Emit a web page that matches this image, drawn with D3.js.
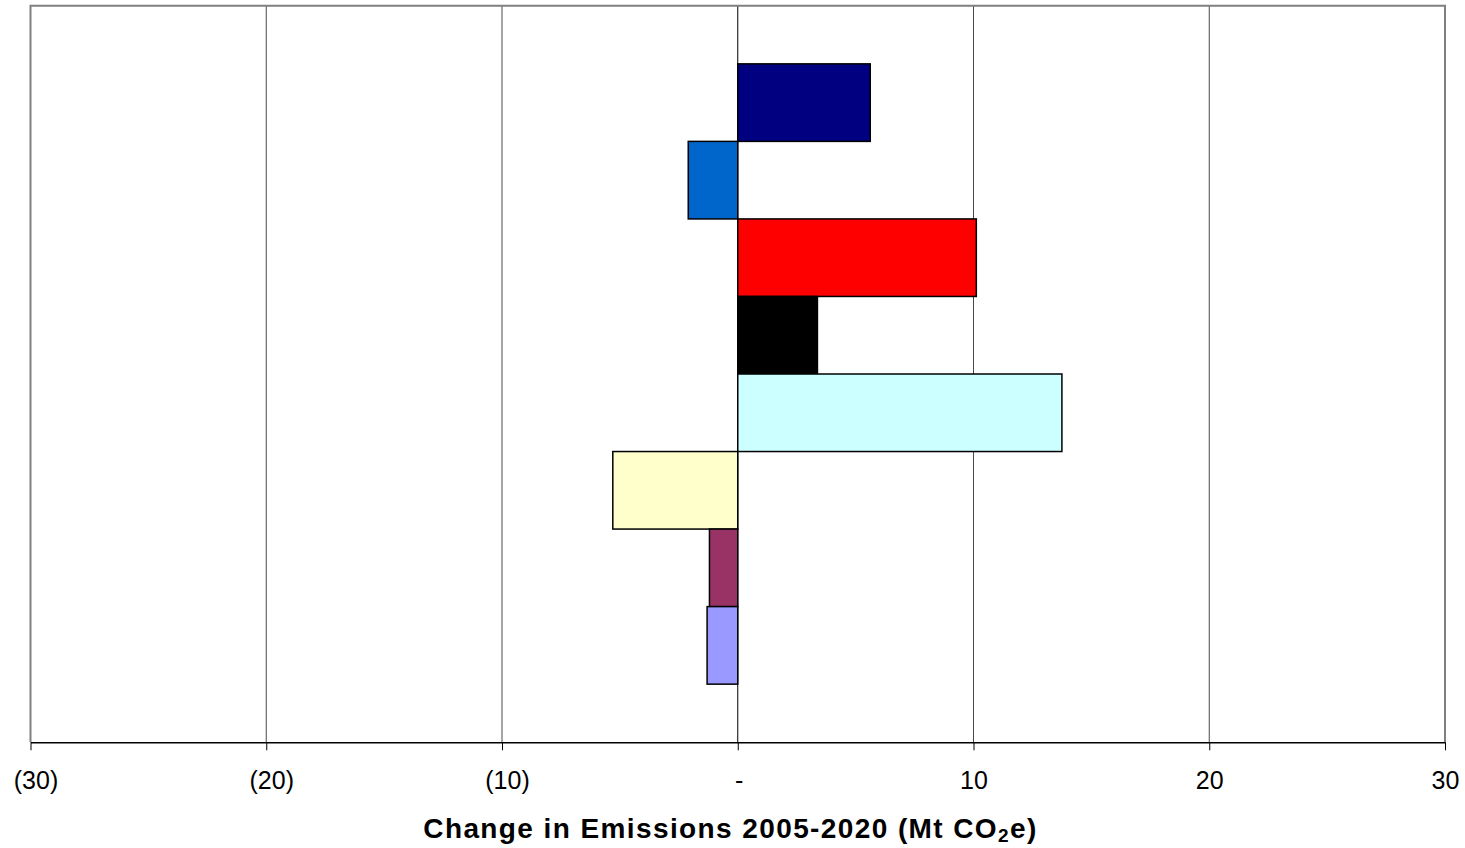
<!DOCTYPE html>
<html>
<head>
<meta charset="utf-8">
<script src="https://cdn.jsdelivr.net/npm/d3@7"></script>
<style>
  html, body { margin: 0; padding: 0; background: #fff; }
  svg { display: block; font-family: "Liberation Sans", Arial, sans-serif; }
</style>
</head>
<body>
<svg id="chart" width="1465" height="848"></svg>
<script>
// Series (one bar each), top to bottom
const seriesIds = ["s1", "s2", "s3", "s4", "s5", "s6", "s7", "s8"];
// Change in emissions 2005-2020, Mt CO2e
const seriesValues = [5.62, -2.10, 10.12, 3.38, 13.75, -5.30, -1.20, -1.30];
const seriesColors = ["#000080", "#0066CC", "#FF0000", "#000000", "#CCFFFF", "#FFFFCC", "#993366", "#9999FF"];

// Axis ticks and their labels
const tickValues = [-30, -20, -10, 0, 10, 20, 30];
const tickLabels = ["(30)", "(20)", "(10)", "-", "10", "20", "30"];

const svg = d3.select("#chart");
const plot = { left: 30.5, right: 1445, top: 5.7, bottom: 742.3 };

const x = d3.scaleLinear().domain([-30, 30]).range([plot.left, plot.right]);
const y = d3.scaleBand()
  .domain(seriesIds)
  .range([plot.top, plot.bottom])
  .paddingInner(0)
  .paddingOuter(0.75);

// Vertical gridlines
svg.append("g")
  .selectAll("line")
  .data(tickValues.filter(v => v > -30 && v < 30))
  .join("line")
  .attr("x1", d => x(d)).attr("x2", d => x(d))
  .attr("y1", plot.top).attr("y2", plot.bottom)
  .attr("stroke", d => d === 0 ? "#000" : "#4a4a4a")
  .attr("stroke-width", 1);

// Plot frame (top, left, right)
svg.append("path")
  .attr("d", `M${plot.left},${plot.bottom}V${plot.top}H${plot.right}V${plot.bottom}`)
  .attr("fill", "none")
  .attr("stroke", "#808080")
  .attr("stroke-width", 2);

// Bars
const rows = seriesIds.map((id, i) => ({ id, value: seriesValues[i], color: seriesColors[i] }));
svg.append("g")
  .selectAll("rect")
  .data(rows)
  .join("rect")
  .attr("x", d => x(Math.min(0, d.value)))
  .attr("width", d => Math.abs(x(d.value) - x(0)))
  .attr("y", d => y(d.id))
  .attr("height", y.bandwidth())
  .attr("fill", d => d.color)
  .attr("stroke", "#000")
  .attr("stroke-width", 1.5);

// Bottom axis
const labelFor = new Map(tickValues.map((v, i) => [v, tickLabels[i]]));
const axis = svg.append("g")
  .attr("transform", `translate(0,${plot.bottom})`)
  .call(d3.axisBottom(x)
    .tickValues(tickValues)
    .tickFormat(d => labelFor.get(d))
    .tickSize(8)
    .tickSizeOuter(0));
axis.select(".domain").attr("stroke", "#000").attr("stroke-width", 1.5);
axis.selectAll(".tick line").attr("stroke", "#000").attr("stroke-width", 1);
axis.selectAll(".tick text")
  .attr("fill", "#000")
  .attr("font-size", "25px")
  .attr("font-family", "'Liberation Sans', Arial, sans-serif")
  .attr("y", 0)
  .attr("dy", 0)
  .attr("transform", "translate(0,46.5)")
  .attr("dx", d => d < 0 ? 5 : (d === 0 ? 1 : 0));

// Axis title
const title = svg.append("text")
  .attr("x", 730.5)
  .attr("y", 838)
  .attr("text-anchor", "middle")
  .attr("font-size", "28px")
  .attr("font-weight", "bold")
  .attr("letter-spacing", "1.4px")
  .attr("fill", "#000");
title.append("tspan").text("Change in Emissions 2005-2020 (Mt CO");
title.append("tspan").attr("font-size", "19px").attr("dy", 4).text("2");
title.append("tspan").attr("dy", -4).text("e)");
</script>
</body>
</html>
